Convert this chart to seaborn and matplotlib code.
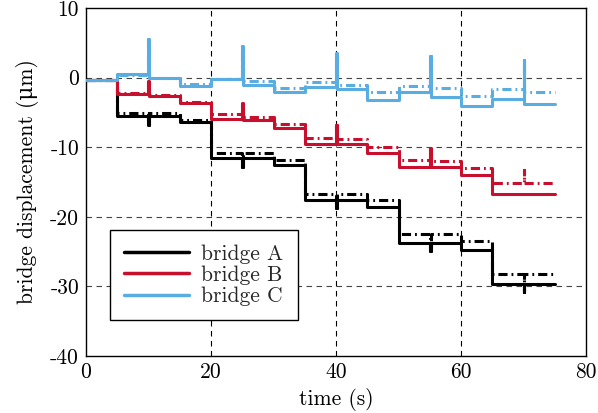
import numpy as np
import pandas as pd
import matplotlib
matplotlib.use("Agg")
import matplotlib.pyplot as plt
import seaborn as sns

# ---- data ----
seg_t = [0, 5, 10, 15, 20, 25, 30, 35, 40, 45, 50, 55, 60, 65, 70]
end_t = 75
spike_t = [10, 25, 40, 55, 70]

A_solid = [-0.3, -5.5, -5.5, -6.4, -11.6, -11.6, -12.5, -17.6, -17.6, -18.6, -23.7, -23.7, -24.8, -29.7, -29.7]
A_dash = [-0.3, -5.1, -5.1, -6.1, -10.9, -10.9, -11.9, -16.7, -16.7, -17.6, -22.5, -22.5, -23.5, -28.2, -28.2]
A_spk_solid = [-6.8, -12.8, -18.8, -24.9, -30.8]
A_spk_dash = [-6.8, -12.8, -18.8, -24.9, -30.8]

B_solid = [-0.3, -2.3, -2.7, -3.7, -6.0, -6.1, -7.3, -9.5, -9.6, -10.9, -12.8, -12.8, -14.0, -16.7, -16.7]
B_dash = [-0.3, -2.2, -2.5, -3.5, -5.3, -5.6, -6.7, -8.7, -8.8, -9.9, -11.8, -12.0, -13.0, -15.1, -15.1]
B_spk_solid = [-0.5, -3.6, -6.8, -10.1, None]
B_spk_dash = [-0.5, -3.6, -6.8, -10.1, -13.3]

C_solid = [-0.3, 0.5, 0.0, -1.2, -0.2, -1.0, -2.0, -1.3, -1.7, -3.2, -2.0, -2.8, -4.1, -3.1, -3.8]
C_dash = [-0.3, 0.4, -0.1, -0.9, -0.2, -0.5, -1.5, -0.7, -1.1, -2.1, -1.2, -1.5, -2.7, -1.7, -2.1]
C_spk_solid = [5.5, 4.6, 3.6, 3.1, 2.6]
C_spk_dash = [5.5, 4.6, 3.6, 3.1, 2.6]

labels = ["bridge A", "bridge B", "bridge C"]
colors = ["#000000", "#c8102e", "#5aade0"]

x_ticks = [0, 20, 40, 60, 80]
y_ticks = [10, 0, -10, -20, -30, -40]
y_ticklabels = ["10", "0", "-10", "-20", "-30", "-40"]


def build(vals, spikes):
    ts, ys = [], []
    spk = dict(zip(spike_t, spikes))
    for t, v in zip(seg_t, vals):
        if spk.get(t) is not None:
            ts += [t, t + 0.15]
            ys += [spk[t], v]
        else:
            ts.append(t)
            ys.append(v)
    ts.append(end_t)
    ys.append(vals[-1])
    return pd.DataFrame({"t": ts, "y": ys})


sns.set_theme(style="white")
plt.rcParams["font.family"] = ["cmr10", "DejaVu Serif"]
plt.rcParams["axes.unicode_minus"] = False
plt.rcParams["mathtext.fontset"] = "cm"

FS = 15.5
fig = plt.figure(figsize=(5.98, 4.13), dpi=100)
ax = fig.add_axes([0.1438, 0.138, 0.8362, 0.8426])

ax.set_xlim(0, 80)
ax.set_ylim(-40, 10)

for xv in [20, 40, 60]:
    ax.axvline(xv, color="black", lw=0.8, ls=(0, (5, 4)), zorder=0)
for yv in [0, -10, -20, -30]:
    ax.axhline(yv, color="#444444", lw=0.8, ls=(0, (5, 4)), zorder=0)

series = [(A_solid, A_dash, A_spk_solid, A_spk_dash),
          (B_solid, B_dash, B_spk_solid, B_spk_dash),
          (C_solid, C_dash, C_spk_solid, C_spk_dash)]
handles = []
for (sv, dv, sps, spd), lab, col in zip(series, labels, colors):
    dd = build(dv, spd)
    sns.lineplot(data=dd, x="t", y="y", ax=ax, color=col, lw=2.2,
                 drawstyle="steps-post", estimator=None, sort=False,
                 dashes=False, linestyle=(0, (3, 1.3, 0.6, 1.3)), zorder=2)
    ds = build(sv, sps)
    sns.lineplot(data=ds, x="t", y="y", ax=ax, color=col, lw=2.2,
                 drawstyle="steps-post", estimator=None, sort=False, zorder=3)
    handles.append(plt.Line2D([], [], color=col, lw=2.5))

ax.set_xticks(x_ticks)
ax.set_xticklabels([str(v) for v in x_ticks])
ax.set_yticks(y_ticks)
ax.set_yticklabels(y_ticklabels)
ax.tick_params(length=0, labelsize=FS, pad=5, colors="black")
for s in ax.spines.values():
    s.set_color("black")
    s.set_linewidth(1.0)

ax.set_xlabel("time (s)", fontsize=FS, color="black", labelpad=4)
ax.set_ylabel("bridge displacement (\u03bcm)", fontsize=FS, color="black", labelpad=8)

leg = ax.legend(handles, labels, loc="lower left", bbox_to_anchor=(0.048, 0.103),
                fontsize=FS, frameon=True, fancybox=False, edgecolor="black",
                framealpha=1, handlelength=3.0, borderpad=0.65, labelspacing=0.08,
                handletextpad=0.6, borderaxespad=0)
leg.get_frame().set_linewidth(1.0)

fig.savefig("out.png", dpi=100)
